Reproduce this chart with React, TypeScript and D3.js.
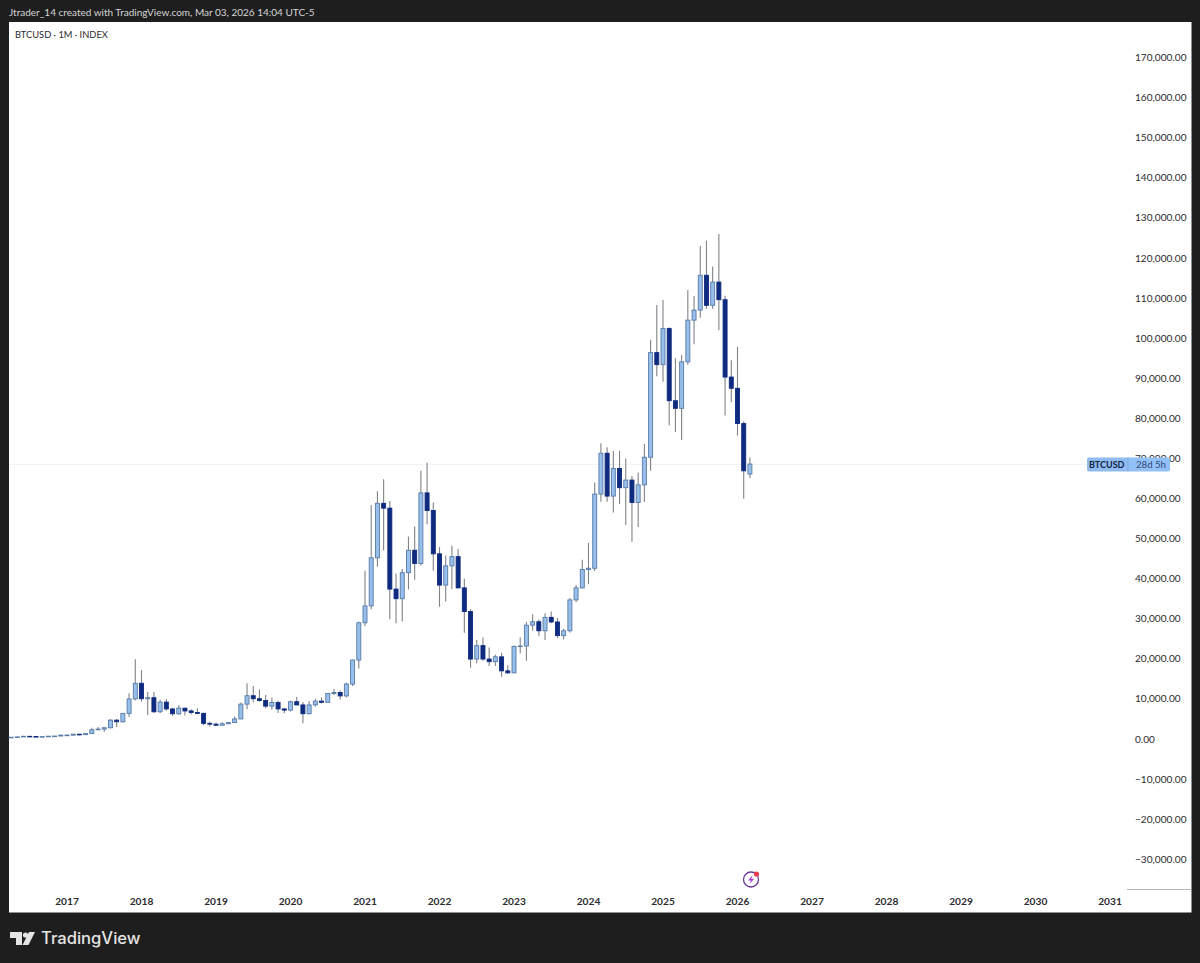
import * as d3 from 'd3';

// monthly candles, first one is Apr 2016
const firstYear = 2016;
const firstMonth = 3;

const opens = [
  416, 448, 531, 673, 624, 575, 609, 700, 745,
  965, 965, 1190, 1080, 1350, 2300, 2480, 2800, 4700, 4300, 6400, 10000,
  13900, 10050, 10300, 6800, 9200, 7500, 6300, 7700, 7000, 6600, 6400, 3900,
  3700, 3430, 3810, 4100, 5000, 8700, 10800, 10050, 9600, 8200, 9100, 7500,
  7200, 9300, 8500, 6300, 8500, 9450, 9150, 11350, 11600, 10750, 13700, 19700,
  29000, 33200, 45200, 58800, 57600, 37400, 35000, 41500, 47100, 43800, 61400, 57000,
  46200, 38400, 43200, 45500, 37700, 31800, 19950, 23300, 19950, 19300, 20500, 17000,
  16500, 23100, 23200, 28400, 29250, 27000, 30350, 29200, 25800, 27000, 34700, 37700,
  42300, 42600, 61100, 71300, 60600, 67500, 62700, 64600, 59000, 63400, 70300, 96400,
  93400, 102400, 84400, 82500, 94100, 104500, 107000, 115700, 108200, 114000, 109600, 90300,
  87500, 78700, 66100,
];
const highs = [
  467, 548, 780, 704, 628, 628, 720, 755, 980,
  1150, 1200, 1295, 1350, 2790, 2990, 2920, 4980, 4980, 6470, 11400, 19900,
  17200, 11700, 11700, 9770, 10000, 7780, 8480, 7740, 7400, 7680, 6570, 4300,
  4100, 4200, 4150, 5640, 9090, 13900, 13200, 12350, 10950, 10350, 9530, 7750,
  9580, 10500, 9200, 9460, 10080, 10400, 11440, 12480, 12100, 14100, 19800, 29300,
  42000, 58400, 61800, 64800, 59400, 41300, 42400, 50500, 53000, 66900, 68900, 59000,
  47900, 45800, 48200, 47400, 40000, 32400, 24700, 25300, 22800, 21000, 21500, 18400,
  23300, 25300, 29200, 31100, 29800, 31400, 31800, 30200, 27500, 35200, 38400, 44700,
  48900, 64000, 73800, 72800, 71900, 71900, 70000, 65600, 66500, 73600, 99600, 108300,
  109500, 102700, 95000, 95800, 112000, 110500, 123000, 124300, 117900, 126000, 110600, 94500,
  97900, 79300, 70200,
];
const lows = [
  415, 436, 520, 605, 470, 570, 605, 690, 740,
  750, 930, 890, 1060, 1340, 2200, 1830, 2670, 3000, 4110, 5500, 9600,
  9300, 6000, 6500, 6430, 7040, 5750, 6060, 5880, 6100, 6200, 3450, 3120,
  3350, 3380, 3680, 4090, 5000, 7450, 9100, 9320, 7700, 7300, 6500, 6430,
  6860, 8440, 3900, 6160, 8110, 8900, 9000, 11000, 9880, 10370, 13200, 17600,
  28100, 32400, 43000, 47000, 29900, 28900, 29300, 37300, 39700, 43300, 53600, 42000,
  33000, 34300, 37400, 37600, 26500, 17800, 18900, 19500, 18200, 18200, 15500, 16300,
  16500, 21400, 19500, 27000, 25700, 24700, 28900, 25200, 24900, 26550, 34100, 37600,
  38700, 41900, 59200, 59200, 56500, 58600, 53400, 49200, 52900, 59100, 66900, 90500,
  89100, 78300, 76600, 74600, 93400, 98500, 105100, 107300, 107300, 102000, 80700, 84000,
  75700, 60000, 65100,
];
const closes = [
  448, 531, 673, 624, 575, 609, 700, 745, 965,
  965, 1190, 1080, 1350, 2300, 2480, 2800, 4700, 4300, 6400, 10000, 13900,
  10050, 10300, 6800, 9200, 7500, 6300, 7700, 7000, 6600, 6400, 3900, 3700,
  3430, 3810, 4100, 5000, 8700, 10800, 10050, 9600, 8200, 9100, 7500, 7200,
  9300, 8500, 6300, 8500, 9450, 9150, 11350, 11600, 10750, 13700, 19700, 29000,
  33200, 45200, 58800, 57600, 37400, 35000, 41500, 47100, 43800, 61400, 57000, 46200,
  38400, 43200, 45500, 37700, 31800, 19950, 23300, 19950, 19300, 20500, 17000, 16500,
  23100, 23200, 28400, 29250, 27000, 30350, 29200, 25800, 27000, 34700, 37700, 42300,
  42600, 61100, 71300, 60600, 67500, 62700, 64600, 59000, 63400, 70300, 96400, 93400,
  102400, 84400, 82500, 94100, 104500, 107000, 115700, 108200, 114000, 109600, 90300, 87500,
  78700, 66900, 68600,
];

const yearLabels = [2017, 2018, 2019, 2020, 2021, 2022, 2023, 2024, 2025, 2026, 2027, 2028, 2029, 2030, 2031];
const priceTicks = d3.range(-30000, 170001, 10000);

const WIDTH = 1200;
const HEIGHT = 963;
const PLOT = { left: 9, right: 1191.5, top: 22, bottom: 912.5 };
const AXIS_TOP = 889.5;
const AXIS_LEFT = 1127;
const UI_FONT = 'Lato, "Open Sans", sans-serif';

const UP_FILL = '#98bfea';
const UP_EDGE = '#567aa8';
const DOWN_FILL = '#0e2b80';
const WICK = '#808288';
const TEXT = '#2b2b2f';
const BADGE = '#90bcf3';

// index 0 is Jan 2017, bars before that are negative
const monthIndex = (year: number, month: number) => (year - 2017) * 12 + month;
const xScale = d3.scaleLinear().domain([0, 168]).range([67, 1110]);
const yScale = d3.scaleLinear().domain([0, 170000]).range([739, 57.6]);
const priceFormat = d3.format(',.2f');

const candles = opens.map((open, i) => ({
  index: monthIndex(firstYear, firstMonth) + i,
  open,
  high: highs[i],
  low: lows[i],
  close: closes[i],
}));

export default function App() {
  const bodyWidth = 4;

  return (
    <svg
      width={WIDTH}
      height={HEIGHT}
      style={{ position: 'absolute', left: 0, top: 0, display: 'block' }}
      fontFamily={UI_FONT}
    >
      <rect width={WIDTH} height={HEIGHT} fill="#1e1e1e" />
      <rect
        x={PLOT.left}
        y={PLOT.top}
        width={PLOT.right - PLOT.left}
        height={PLOT.bottom - PLOT.top}
        fill="#ffffff"
      />

      <text x={9} y={16} fontSize={10} fill="#d6d6d6">
        Jtrader_14 created with TradingView.com, Mar 03, 2026 14:04 UTC-5
      </text>
      <text x={15} y={38} fontSize={9.3} fill={TEXT}>
        BTCUSD · 1M · INDEX
      </text>

      {/* last price line */}
      <line x1={PLOT.left} x2={1087} y1={464.5} y2={464.5} stroke="#eff2f6" strokeWidth={1} />

      {candles.map((d) => {
        const x = xScale(d.index);
        const up = d.close >= d.open;
        const top = yScale(Math.max(d.open, d.close));
        const bottom = yScale(Math.min(d.open, d.close));
        return (
          <g key={d.index}>
            <line x1={x} x2={x} y1={yScale(d.high)} y2={yScale(d.low)} stroke={WICK} strokeWidth={1.1} />
            <rect
              x={x - bodyWidth / 2}
              y={top}
              width={bodyWidth}
              height={Math.max(bottom - top, 0.6)}
              fill={up ? UP_FILL : DOWN_FILL}
              stroke={up ? UP_EDGE : DOWN_FILL}
              strokeWidth={0.9}
            />
          </g>
        );
      })}

      {/* price axis */}
      <line x1={AXIS_LEFT} x2={PLOT.right} y1={AXIS_TOP} y2={AXIS_TOP} stroke="#b4b4b4" strokeWidth={1} />
      {priceTicks.map((p) => (
        <text key={p} x={1135} y={yScale(p) + 3.5} fontSize={10.1} fill={TEXT}>
          {priceFormat(p).replace('-', '\u2212')}
        </text>
      ))}

      {/* time axis */}
      {yearLabels.map((year) => (
        <text
          key={year}
          x={xScale(monthIndex(year, 0))}
          y={904.5}
          fontSize={10.2}
          fontWeight={700}
          textAnchor="middle"
          fill={TEXT}
        >
          {year}
        </text>
      ))}

      {/* countdown badge */}
      <rect x={1087} y={457.5} width={44} height={14} rx={2} fill={BADGE} />
      <rect x={1128} y={457.5} width={42} height={14} rx={2} fill="#93c0f7" />
      <line x1={1128} x2={1128} y1={457.5} y2={471.5} stroke="#7fa9dd" strokeWidth={1} />
      <text x={1089} y={468} fontSize={9} fontWeight={700} fill="#12233f">BTCUSD</text>
      <text x={1136} y={468} fontSize={9.6} fill="#2a4a78">28d 5h</text>

      {/* bolt badge */}
      <circle cx={751} cy={879.5} r={7.5} fill="#ffffff" stroke="#6a3a9c" strokeWidth={1.3} />
      <path d="M752.6 875 L748 880.4 L751 880.4 L749.6 884 L754.2 878.8 L751.2 878.8 Z" fill="#a342d0" />
      <circle cx={756.5} cy={874} r={2.6} fill="#ec3a4e" />

      {/* footer logo */}
      <g fill="#e4e4e4">
        <path d="M10 932 H22 V945 H16 V938 H10 Z" />
        <circle cx={25.5} cy={935} r={2.6} />
        <path d="M29 932 H35 L28.5 945 H22.5 Z" />
      </g>
      <text x={41} y={944} fontSize={16.6} fontWeight={500} fill="#e4e4e4" fontFamily="Inter, sans-serif">
        TradingView
      </text>
    </svg>
  );
}
